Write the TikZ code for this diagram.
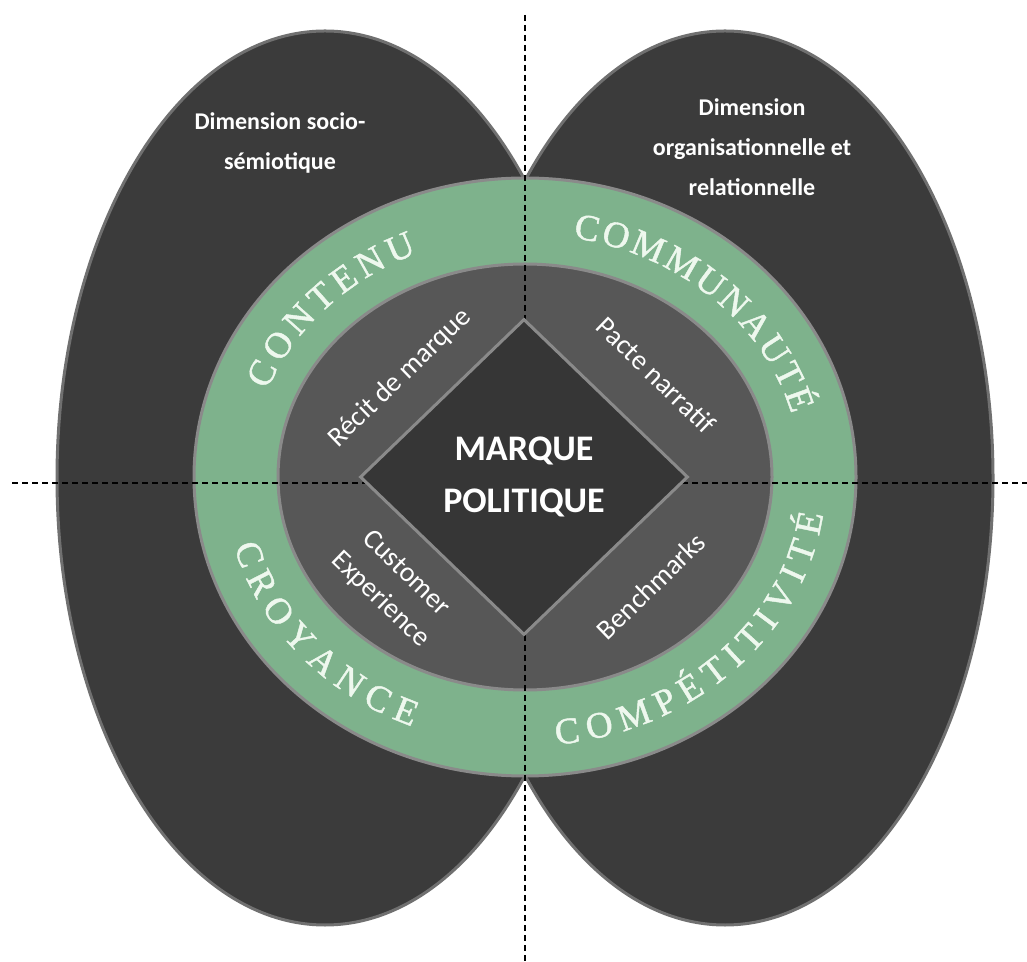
\documentclass[tikz,border=0pt]{standalone}
\usepackage{fontspec}
\setmainfont{Carlito}
\newfontfamily\ringfont{Liberation Serif}[FakeBold=1.2]
\usetikzlibrary{shapes.geometric}
\usetikzlibrary{decorations.text}

\definecolor{ovaldark}{HTML}{3B3B3B}
\definecolor{ovaledge}{HTML}{707070}
\definecolor{ringgreen}{HTML}{7EB28C}
\definecolor{ringedge}{HTML}{8A8A8A}
\definecolor{innergray}{HTML}{575757}
\definecolor{coredark}{HTML}{363636}
\definecolor{ringtext}{HTML}{EEF8EE}

\begin{document}
\begin{tikzpicture}[x=1pt,y=1pt,
        dimoval/.style={fill=ovaldark,draw=ovaledge,line width=3pt},
        ringband/.style={fill=ringgreen,draw=ringedge,line width=3pt},
        innerdisc/.style={fill=innergray,draw=ringedge,line width=3pt},
        guide/.style={dash pattern=on 6pt off 4pt,line width=1.3pt},
        corebox/.style={shape=diamond,fill=coredark,draw=ringedge,line width=3pt,
          minimum width=328pt,minimum height=316pt,inner sep=0pt,
          text=white,align=center,font=\bfseries\fontsize{36}{52}\selectfont},
        dimlabel/.style={text=white,align=center,font=\bfseries\fontsize{24}{40}\selectfont},
        sublabel/.style={text=white,align=center,font=\fontsize{28}{37}\selectfont},
        ringlabel/.style={decorate,decoration={text along path,
          text align=fit to path,text color=ringtext}}
      ]
      \useasboundingbox (0,0) rectangle (1027,961);
      \coordinate (hub) at (525,484);

      % the two dimensions
      \draw[dimoval] (325,483) ellipse [x radius=268,y radius=447];
      \draw[dimoval] (725,483) ellipse [x radius=268,y radius=447];

      % green ring and inner disc
      \draw[ringband] (hub) ellipse [x radius=331,y radius=299];
      \draw[innerdisc] (hub) ellipse [x radius=247,y radius=213];

      % axes
      \coordinate (ntop) at (525,946);
      \coordinate (nbot) at (525,0);
      \coordinate (wleft) at (12,478);
      \coordinate (eright) at (1027,478);
      \draw[guide] (ntop) -- (nbot);
      \draw[guide] (wleft) -- (eright);

      \node[corebox] (marque) at (524,484) {MARQUE\\POLITIQUE};

      % ring words
      \path[ringlabel,decoration={text={|\ringfont\fontsize{37}{37}\selectfont|CONTENU}}]
        (hub) ++(159:276 and 243) arc [start angle=159,end angle=113,x radius=276,y radius=243];
      \path[ringlabel,decoration={text={|\ringfont\fontsize{37}{37}\selectfont|COMMUNAUTÉ}}]
        (hub) ++(80:276 and 243) arc [start angle=80,end angle=15,x radius=276,y radius=243];
      \path[ringlabel,decoration={text={|\ringfont\fontsize{37}{37}\selectfont|CROYANCE}}]
        (hub) ++(195:301 and 269) arc [start angle=195,end angle=248,x radius=301,y radius=269];
      \path[ringlabel,decoration={text={|\ringfont\fontsize{37}{37}\selectfont|COMPÉTITIVITÉ}}]
        (hub) ++(276:301 and 269) arc [start angle=276,end angle=352,x radius=301,y radius=269];

      % quadrant words
      \node[sublabel,rotate=44] (recit) at (400,583) {Récit de marque};
      \node[sublabel,rotate=-44] (pacte) at (656,586) {Pacte narratif};
      \node[sublabel,rotate=-44] (custexp) at (393,374) {Customer\\Experience};
      \node[sublabel,rotate=44] (bench) at (651,375) {Benchmarks};

      \node[dimlabel] (socio) at (280,818) {Dimension socio-\\sémiotique};
      \node[dimlabel] (organ) at (752,814) {Dimension\\organisationnelle et\\relationnelle};
    \end{tikzpicture}
\end{document}
